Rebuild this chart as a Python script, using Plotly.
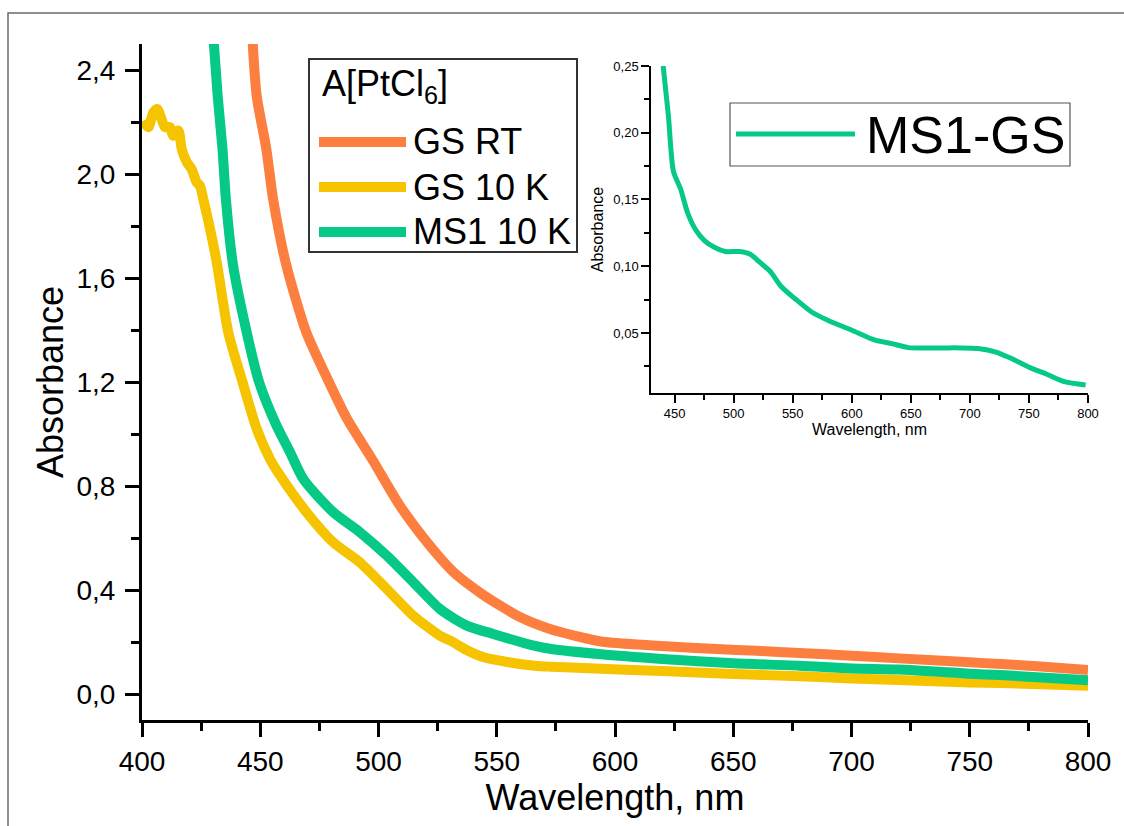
import plotly.graph_objects as go

# ---------------- data ----------------
wl_gs_rt = [446.5, 448.5, 452.5, 455.5, 461.0, 469.5, 478.0, 486.6, 497.5, 509.0, 520.4, 531.6,
            542.9, 551.4, 560.0, 572.5, 584.0, 594.0, 610.0, 625.0, 643.0, 660.0, 678.0, 700.0,
            720.0, 750.0, 763.0, 780.0, 800.0]
abs_gs_rt = [2.55, 2.30, 2.10, 1.90, 1.65, 1.39, 1.22, 1.06, 0.90, 0.725, 0.585, 0.47,
             0.39, 0.34, 0.295, 0.25, 0.222, 0.202, 0.19, 0.182, 0.173, 0.166, 0.158, 0.147,
             0.137, 0.122, 0.115, 0.106, 0.092]

wl_gs_10k = [400.6, 402.7, 404.8, 406.5, 408.3, 409.7, 411.8, 413.2, 415.4, 416.8, 419.0, 421.0,
             423.1, 424.5, 426.0, 428.5, 431.6, 436.5, 442.5, 448.5, 454.1, 458.4, 469.6, 480.9,
             492.2, 503.5, 514.7, 526.0, 530.4, 537.0, 544.5, 555.0, 566.0, 573.0, 594.0, 620.0,
             650.0, 678.0, 700.0, 720.0, 750.0, 763.0, 800.0]
abs_gs_10k = [2.205, 2.18, 2.237, 2.25, 2.21, 2.18, 2.18, 2.147, 2.167, 2.096, 2.045, 2.019,
              1.968, 1.955, 1.90, 1.80, 1.66, 1.39, 1.20, 1.02, 0.904, 0.84, 0.699, 0.583,
              0.506, 0.404, 0.301, 0.224, 0.205, 0.17, 0.141, 0.122, 0.109, 0.105, 0.097, 0.088,
              0.077, 0.068, 0.06, 0.054, 0.044, 0.042, 0.032]

wl_ms1_10k = [430.0, 432.0, 434.0, 435.5, 438.5, 444.3, 449.5, 456.5, 462.6, 468.2, 480.9,
              492.2, 503.5, 514.7, 526.0, 537.3, 548.5, 565.7, 573.0, 594.0, 620.0, 650.0, 678.0,
              700.0, 720.0, 750.0, 763.0, 800.0]
abs_ms1_10k = [2.55, 2.30, 2.10, 1.90, 1.65, 1.39, 1.20, 1.04, 0.93, 0.827, 0.699,
               0.622, 0.532, 0.43, 0.327, 0.263, 0.231, 0.186, 0.173, 0.153, 0.135, 0.118, 0.109,
               0.098, 0.094, 0.078, 0.073, 0.053]

wl_diff = [440.3, 444.7, 449.0, 455.0, 461.0, 468.0, 475.5, 484.0, 493.0, 505.0, 514.0, 522.0,
           531.0, 540.0, 552.0, 566.0, 581.0, 601.6, 619.0, 634.0, 648.0, 663.0, 678.0, 692.0,
           707.0, 722.0, 736.0, 751.0, 766.0, 780.0, 798.0]
abs_diff = [0.25, 0.213, 0.171, 0.158, 0.140, 0.127, 0.119, 0.114, 0.111, 0.111, 0.109, 0.103,
            0.096, 0.085, 0.0756, 0.0657, 0.059, 0.0515, 0.0448, 0.042, 0.039, 0.0388, 0.0388, 0.0388,
            0.0383, 0.0357, 0.0305, 0.024, 0.0187, 0.0135, 0.011]

series_names = ["GS RT", "GS 10 K", "MS1 10 K"]
legend_title = "A[PtCl<sub>6</sub>]"
inset_name = "MS1-GS"

# ---------------- style ----------------
C_ORANGE = "#FC7F3F"
C_YELLOW = "#F5C300"
C_GREEN = "#05C985"
FONT = "Arial, Liberation Sans, sans-serif"

W, H = 1124, 826
ML, MR, MT, MB = 142, 36, 44, 106
PW, PH = W - ML - MR, H - MT - MB


def pxx(x):
    return (x - ML) / PW


def pxy(y):
    return (H - MB - y) / PH


fig = go.Figure()
fig.add_trace(go.Scatter(x=wl_gs_rt, y=abs_gs_rt, mode="lines", name=series_names[0],
                         line=dict(color=C_ORANGE, width=10, shape="spline", smoothing=0.7),
                         showlegend=False))
fig.add_trace(go.Scatter(x=wl_gs_10k, y=abs_gs_10k, mode="lines", name=series_names[1],
                         line=dict(color=C_YELLOW, width=10, shape="spline", smoothing=0.7),
                         showlegend=False))
fig.add_trace(go.Scatter(x=wl_ms1_10k, y=abs_ms1_10k, mode="lines", name=series_names[2],
                         line=dict(color=C_GREEN, width=10, shape="spline", smoothing=0.7),
                         showlegend=False))
fig.add_trace(go.Scatter(x=wl_diff, y=abs_diff, mode="lines", name=inset_name,
                         line=dict(color=C_GREEN, width=5, shape="spline", smoothing=0.7),
                         showlegend=False, xaxis="x2", yaxis="y2"))

axis_common = dict(showline=True, linecolor="black", ticks="outside", tickcolor="black",
                   showgrid=False, zeroline=False, mirror=False)

fig.update_layout(
    width=W, height=H,
    margin=dict(l=ML, r=MR, t=MT, b=MB, autoexpand=False),
    paper_bgcolor="white", plot_bgcolor="white",
    separators=", ",
    font=dict(family=FONT, color="black"),
    xaxis=dict(**axis_common, range=[400, 800], dtick=50, tick0=0, linewidth=3, tickwidth=3,
               ticklen=14, tickfont=dict(size=28),
               minor=dict(dtick=25, ticklen=8, tickwidth=3, tickcolor="black", ticks="outside"),
               title=dict(text="Wavelength, nm", font=dict(size=36), standoff=6),
               automargin=False),
    yaxis=dict(**axis_common, range=[-0.1, 2.5], dtick=0.4, tick0=0, linewidth=3, tickwidth=3,
               ticklen=14, tickfont=dict(size=28), tickformat=".1f", ticklabelstandoff=4,
               minor=dict(dtick=0.2, ticklen=8, tickwidth=3, tickcolor="black", ticks="outside"),
               title=dict(text="Absorbance", font=dict(size=36), standoff=2),
               automargin=False),
    xaxis2=dict(**axis_common, domain=[pxx(651), 1.0], anchor="y2", range=[430, 800],
                dtick=50, tick0=0, linewidth=1.5, tickwidth=1.5, ticklen=8,
                tickfont=dict(size=13),
                minor=dict(dtick=25, ticklen=5, tickwidth=1.5, tickcolor="black", ticks="outside"),
                title=dict(text="Wavelength, nm", font=dict(size=16), standoff=2),
                automargin=False),
    yaxis2=dict(**axis_common, domain=[pxy(393), pxy(66)], anchor="x2", range=[0.005, 0.25],
                dtick=0.05, tick0=0, linewidth=1.5, tickwidth=1.5, ticklen=8,
                tickfont=dict(size=13), tickformat=".2f",
                minor=dict(dtick=0.025, ticklen=5, tickwidth=1.5, tickcolor="black", ticks="outside"),
                title=dict(text="Absorbance", font=dict(size=16), standoff=6),
                automargin=False),
)

shapes = []
annotations = []

# outer frame of the picture
shapes.append(dict(type="rect", xref="paper", yref="paper",
                   x0=pxx(8), x1=pxx(W + 10), y0=pxy(H + 10), y1=pxy(13),
                   line=dict(color="#6a6a6a", width=1.5), fillcolor="rgba(0,0,0,0)", layer="below"))

# main legend box
shapes.append(dict(type="rect", xref="paper", yref="paper",
                   x0=pxx(309), x1=pxx(577), y0=pxy(252), y1=pxy(59),
                   line=dict(color="#333333", width=2), fillcolor="white"))
annotations.append(dict(xref="paper", yref="paper", x=pxx(320), y=pxy(86), xanchor="left",
                        yanchor="middle", text=legend_title, showarrow=False,
                        font=dict(size=36, family=FONT, color="black")))
for name, color, yy in zip(series_names, [C_ORANGE, C_YELLOW, C_GREEN], [142, 187, 232]):
    shapes.append(dict(type="line", xref="paper", yref="paper",
                       x0=pxx(319), x1=pxx(406), y0=pxy(yy), y1=pxy(yy),
                       line=dict(color=color, width=10)))
    annotations.append(dict(xref="paper", yref="paper", x=pxx(411), y=pxy(yy), xanchor="left",
                            yanchor="middle", text=name, showarrow=False,
                            font=dict(size=36, family=FONT, color="black")))

# inset legend box
shapes.append(dict(type="rect", xref="paper", yref="paper",
                   x0=pxx(730), x1=pxx(1070), y0=pxy(166), y1=pxy(103),
                   line=dict(color="#555555", width=1.2), fillcolor="white"))
shapes.append(dict(type="line", xref="paper", yref="paper",
                   x0=pxx(736), x1=pxx(855), y0=pxy(134), y1=pxy(134),
                   line=dict(color=C_GREEN, width=5)))
annotations.append(dict(xref="paper", yref="paper", x=pxx(864), y=pxy(135), xanchor="left",
                        yanchor="middle", text=inset_name, showarrow=False,
                        font=dict(size=52, family=FONT, color="black")))

fig.update_layout(shapes=shapes, annotations=annotations)

fig.write_html("out.html")
